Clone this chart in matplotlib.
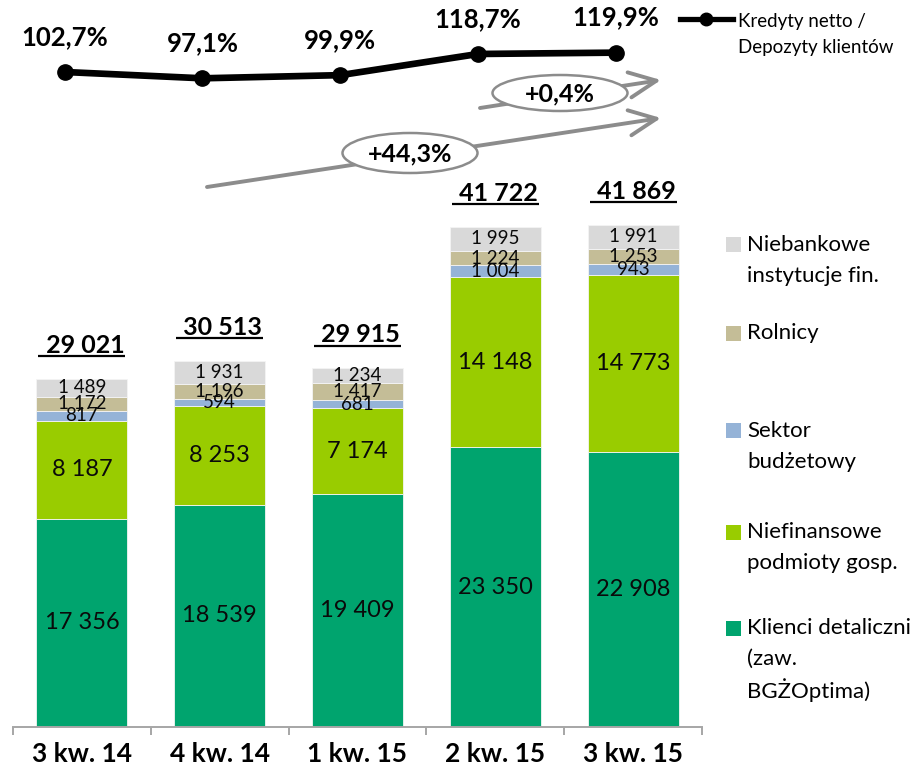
import matplotlib
matplotlib.use("Agg")
import matplotlib.pyplot as plt
from matplotlib.patches import Ellipse, FancyArrowPatch, Rectangle
from matplotlib.lines import Line2D
from matplotlib.transforms import offset_copy
import numpy as np

plt.rcParams['font.family'] = ['Lato', 'DejaVu Sans']

# ---------------- data ----------------
categories = ['3 kw. 14', '4 kw. 14', '1 kw. 15', '2 kw. 15', '3 kw. 15']
klienci = [17356, 18539, 19409, 23350, 22908]
niefinansowe = [8187, 8253, 7174, 14148, 14773]
sektor = [817, 594, 681, 1004, 943]
rolnicy = [1172, 1196, 1417, 1224, 1253]
niebankowe = [1489, 1931, 1234, 1995, 1991]
totals = [29021, 30513, 29915, 41722, 41869]
ratio = [102.7, 97.1, 99.9, 118.7, 119.9]
growth_labels = ['+0,4%', '+44,3%']

series_names = ['Klienci detaliczni\n(zaw.\nBGŻOptima)', 'Niefinansowe\npodmioty gosp.',
                'Sektor\nbudżetowy', 'Rolnicy', 'Niebankowe\ninstytucje fin.']
series_values = [klienci, niefinansowe, sektor, rolnicy, niebankowe]
series_colors = ['#00A46E', '#99CC00', '#95B3D7', '#C4BD97', '#D9D9D9']
line_label = 'Kredyty netto /\nDepozyty klientów'

W, H = 910, 767
fig = plt.figure(figsize=(W / 100, H / 100), dpi=100)


def fpx(x, y):
    return (x / W, 1 - y / H)


ax_left, ax_right, ax_bottom = 13, 702, 727
ax = fig.add_axes([ax_left / W, (H - ax_bottom) / H, (ax_right - ax_left) / W, ax_bottom / H])
ax.set_xlim(-0.5, 4.5)
ax.set_ylim(0, 727 / 0.01199)
x = np.arange(len(categories))

bottom = np.zeros(len(categories))
for name, vals, col in zip(series_names, series_values, series_colors):
    vals = np.array(vals, dtype=float)
    ax.bar(x, vals, width=0.66, bottom=bottom, color=col, edgecolor='#F4F4F4', linewidth=0.6)
    big = name.startswith('Klienci') or name.startswith('Niefinansowe')
    for i, v in enumerate(vals):
        txt = '{:,}'.format(int(v)).replace(',', ' ')
        ax.text(x[i], bottom[i] + v / 2, txt, ha='center', va='center',
                fontsize=17 if big else 13.5, color='#0A0A0A')
    bottom += vals

# totals with underline
for i, t in enumerate(totals):
    txt = ' ' + '{:,}'.format(t).replace(',', ' ')
    ax.annotate(txt, xy=(x[i], bottom[i]), xytext=(0, 18.7), textcoords='offset points',
                ha='center', va='baseline', fontsize=18, fontweight='bold', color='black')
    tr = offset_copy(ax.transData, fig=fig, x=0, y=16.4, units='points')
    ax.plot([x[i] - 0.316, x[i] + 0.316], [bottom[i], bottom[i]], color='black', lw=1.6,
            transform=tr, solid_capstyle='butt', clip_on=False)

# axes styling
for s in ['top', 'right', 'left']:
    ax.spines[s].set_visible(False)
ax.spines['bottom'].set_color('#A6A6A6')
ax.spines['bottom'].set_linewidth(1.4)
ax.set_yticks([])
ax.set_xticks(np.arange(-0.5, 5.0, 1.0))
ax.set_xticklabels([])
ax.tick_params(axis='x', which='major', length=6, width=1.4, color='#A6A6A6', direction='out')
ax.set_xticks(x, minor=True)
ax.set_xticklabels(categories, minor=True, fontsize=19, fontweight='bold')
ax.tick_params(axis='x', which='minor', length=0, pad=11)

# ratio line on its own axes
ax2 = fig.add_axes(ax.get_position())
ax2.set_xlim(-0.5, 4.5)
ax2.set_ylim(97.1 - (727 - 78.3) / 1.126, 97.1 + 78.3 / 1.126)
ax2.axis('off')
ax2.patch.set_alpha(0)
lx = x - 0.125
ax2.plot(lx, ratio, color='black', lw=4.8, marker='o', markersize=11, solid_joinstyle='round')
for xi, v in zip(lx, ratio):
    ax2.annotate('{:.1f}%'.format(v).replace('.', ','), xy=(xi, v), xytext=(0, 19.5),
                 textcoords='offset points', ha='center', va='baseline',
                 fontsize=18.5, fontweight='bold')

# growth arrows
arrow_col = '#8C8C8C'
arrows = [((480, 108), (661, 80), (560, 93), (135, 36)),
          ((207, 187), (661, 118), (410, 153), (135, 40))]
for (p0, p1, c, (ew, eh)), lab in zip(arrows, growth_labels):
    fa = FancyArrowPatch(fpx(*p0), fpx(*p1), transform=fig.transFigure,
                         arrowstyle='->,head_length=1.4,head_width=0.65', mutation_scale=14,
                         lw=2.8, color=arrow_col, shrinkA=0, shrinkB=0)
    fig.add_artist(fa)
    el = Ellipse(fpx(*c), ew / W, eh / H, transform=fig.transFigure,
                 facecolor='white', edgecolor=arrow_col, lw=1.8)
    fig.add_artist(el)
    fig.text(*fpx(c[0], c[1] + 1), lab, ha='center', va='center', fontsize=18, fontweight='bold')

# line legend
fig.add_artist(Line2D([680 / W, 733 / W], [1 - 19 / H, 1 - 19 / H], color='black', lw=3.8))
fig.add_artist(Line2D([706 / W], [1 - 19 / H], color='black', marker='o', markersize=9))
for k, ln in enumerate(line_label.split('\n')):
    fig.text(*fpx(738, 21 + 27 * k), ln, ha='left', va='center', fontsize=13.5)

# series legend (manual)
leg_y = {'Niebankowe': 245, 'Rolnicy': 333, 'Sektor': 431, 'Niefinansowe': 532, 'Klienci': 628}
for name, col in zip(series_names, series_colors):
    key = name.split()[0]
    y0 = leg_y[key]
    fig.add_artist(Rectangle(fpx(726, y0 + 7.5), 15 / W, 15 / H, transform=fig.transFigure,
                             facecolor=col, edgecolor='none'))
    for k, ln in enumerate(name.split('\n')):
        fig.text(*fpx(747, y0 + 31 * k), ln, ha='left', va='center', fontsize=16)

fig.savefig('out.png', dpi=100)
